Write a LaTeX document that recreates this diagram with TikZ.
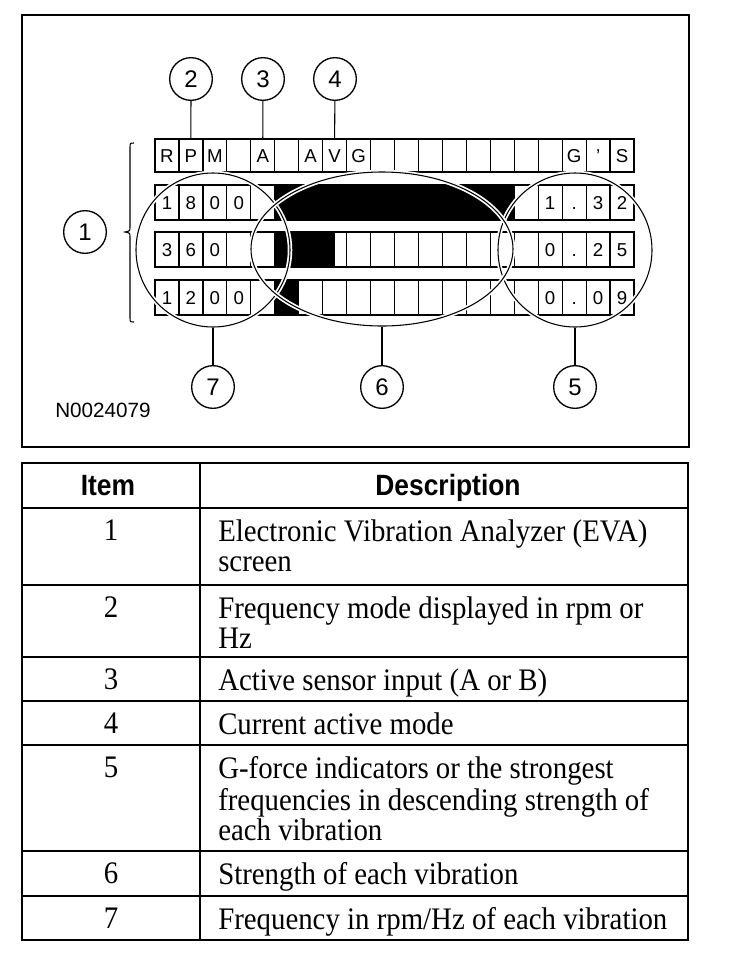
\documentclass[tikz,border=0pt]{standalone}
\usepackage{fontspec}
\setmainfont{Liberation Serif}
\setsansfont{Liberation Sans}
\newfontfamily\bodyfont[FakeStretch=0.92]{Liberation Serif}
\newfontfamily\headfont[FakeStretch=0.9]{Liberation Sans}
\usetikzlibrary{positioning,shapes.geometric}

\tikzset{
  cell/.style={draw,line width=0.9pt,minimum width=17.96pt,minimum height=24.75pt,inner sep=0pt,
    text height=10pt,text depth=0pt,font=\sffamily\fontsize{14}{14}\selectfont},
  row/.style={cell,minimum height=26.25pt},
  ring/.style={draw=white,line width=1.3pt,double=black,double distance=0.8pt,inner sep=0pt},
  callout/.style={draw,circle,line width=1pt,minimum size=32pt,inner sep=0pt,
    font=\sffamily\fontsize{18}{18}\selectfont},
  lead/.style={line width=0.8pt},
  desc/.style={anchor=north west,inner sep=0pt,align=left,font=\bodyfont\fontsize{23.5}{22.5}\selectfont},
  item/.style={anchor=base,inner sep=0pt,font=\bodyfont\fontsize{23.5}{22.5}\selectfont},
  head/.style={anchor=base,inner sep=0pt,font=\headfont\bfseries\fontsize{22}{22}\selectfont}
}

\begin{document}
\begin{tikzpicture}[x=0.75pt,y=-0.75pt]
	\useasboundingbox (0,0) rectangle (736,958);
	%frame
	\draw[line width=1.5pt] (22,15) rectangle (689,447);
	%display
	\foreach \t [count=\i from 0] in {R,P,M,{},A,{},A,V,G,{},{},{},{},{},{},{},{},G,',S}
		\node[cell] (t\i) at ({166.975+\i*23.95},155.5) {\t};
	\foreach \t [count=\i from 0] in {1,8,0,0,{},{},{},{},{},{},{},{},{},{},{},{},1,.,3,2}
		\node[row] (a\i) at ({166.975+\i*23.95},202.5) {\t};
	\foreach \t [count=\i from 0] in {3,6,0,{},{},{},{},{},{},{},{},{},{},{},{},{},0,.,2,5}
		\node[row] (b\i) at ({166.975+\i*23.95},249.5) {\t};
	\foreach \t [count=\i from 0] in {1,2,0,0,{},{},{},{},{},{},{},{},{},{},{},{},0,.,0,9}
		\node[row] (c\i) at ({166.975+\i*23.95},297.5) {\t};
	%bars
	\fill (a5.north west) rectangle (a14.south east);
	\fill (b5.north west) rectangle (b7.south);
	\fill (c5.north west) rectangle (c5.south east);
	%rings
	\node[ring,circle,minimum size=115.5pt] (r7) at (213,250) {};
	\node[ring,circle,minimum size=115.5pt] (r5) at (575,250) {};
	\node[ring,ellipse,minimum width=196.5pt,minimum height=115.5pt] (r6) at (382,249) {};
	%bracket
	\draw[lead] (134,143) .. controls (130,143) .. (130,148) -- (130,227) .. controls (130,231) .. (125,232)
		.. controls (130,233) .. (130,237) -- (130,317) .. controls (130,322) .. (134,322);
	%callouts
	\node[callout] (n1) at (85,232) {1};
	\node[callout] (n2) at (191,79) {2};
	\node[callout] (n3) at (263,79) {3};
	\node[callout] (n4) at (335,79) {4};
	\node[callout] (n7) at (213,387) {7};
	\node[callout] (n6) at (382,387) {6};
	\node[callout] (n5) at (575,387) {5};
	\draw[lead] (n2) -- (t1.north);
	\draw[lead] (n3) -- (t4.north);
	\draw[lead] (n4) -- (t7.north);
	\draw[lead] (n7) -- (r7.south);
	\draw[lead] (n6) -- (r6.south);
	\draw[lead] (n5) -- (r5.south);
	\node[font=\sffamily\fontsize{15.5}{15.5}\selectfont] (code) at (103,410) {N0024079};
	%table
	\draw[line width=1.8pt] (22,463) rectangle (688,940);
	\draw[line width=1.5pt] (200,463) -- (200,940);
	\foreach \y/\w in {508/1.4,585/1.4,657/1.6,701/1.4,745/2,851/1.4,896/2.2}
		\draw[line width=\w pt] (22,\y) -- (688,\y);
	\node[head] (hitem) at (108,495) {Item};
	\node[head] (hdesc) at (448,495) {Description};
	\foreach \n/\y/\txt in {1/508/{Electronic Vibration Analyzer (EVA)\\screen},
		2/585/{Frequency mode displayed in rpm or\\Hz},
		3/657/{Active sensor input (A or B)},
		4/701/{Current active mode},
		5/745/{G-force indicators or the strongest\\frequencies in descending strength of\\each vibration},
		6/851/{Strength of each vibration},
		7/896/{Frequency in rpm/Hz of each vibration}} {
		\node[item] (i\n) at (111,\y+32) {\n};
		\node[desc] (d\n) at (218,\y+11) {\strut\txt};
	}
\end{tikzpicture}
\end{document}
